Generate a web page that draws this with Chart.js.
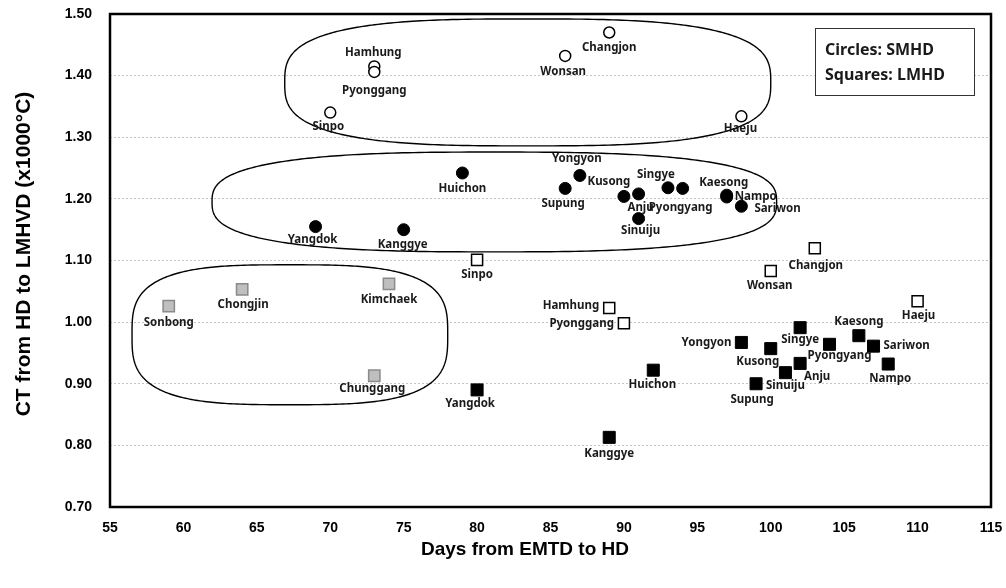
<!DOCTYPE html>
<html>
<head>
<meta charset="utf-8">
<script src="https://cdn.jsdelivr.net/npm/chart.js@4.4.1/dist/chart.umd.min.js"></script>
<style>
  html, body { margin: 0; padding: 0; background: #fff; }
</style>
</head>
<body>
<canvas id="chart" width="1006" height="588"></canvas>
<script>
// SMHD (circles), open markers
const smhdOpenNames = ['Changjon', 'Wonsan', 'Hamhung', 'Pyonggang', 'Sinpo', 'Haeju'];
const smhdOpenDays = [89, 86, 73, 73, 70, 98];
const smhdOpenCT = [1.470, 1.432, 1.415, 1.406, 1.340, 1.334];

// SMHD (circles), filled markers
const smhdFilledNames = ['Huichon', 'Yangdok', 'Kanggye', 'Yongyon', 'Supung', 'Kusong', 'Anju',
  'Singye', 'Pyongyang', 'Sinuiju', 'Kaesong', 'Nampo', 'Sariwon'];
const smhdFilledDays = [79, 69, 75, 87, 86, 90, 91, 93, 94, 91, 97, 97, 98];
const smhdFilledCT = [1.242, 1.155, 1.150, 1.238, 1.217, 1.204, 1.208, 1.218, 1.217, 1.168, 1.206, 1.203, 1.188];

// LMHD (squares), open markers
const lmhdOpenNames = ['Sinpo', 'Changjon', 'Wonsan', 'Hamhung', 'Pyonggang', 'Haeju'];
const lmhdOpenDays = [80, 103, 100, 89, 90, 110];
const lmhdOpenCT = [1.101, 1.120, 1.083, 1.023, 0.998, 1.034];

// LMHD (squares), filled markers
const lmhdFilledNames = ['Yangdok', 'Kanggye', 'Huichon', 'Yongyon', 'Kusong', 'Supung', 'Sinuiju',
  'Singye', 'Anju', 'Pyongyang', 'Kaesong', 'Sariwon', 'Nampo'];
const lmhdFilledDays = [80, 89, 92, 98, 100, 99, 101, 102, 102, 104, 106, 107, 108];
const lmhdFilledCT = [0.890, 0.813, 0.922, 0.967, 0.957, 0.900, 0.918, 0.991, 0.933, 0.964, 0.978, 0.961, 0.932];

// LMHD (squares), grey markers
const lmhdGreyNames = ['Sonbong', 'Chongjin', 'Kimchaek', 'Chunggang'];
const lmhdGreyDays = [59, 64, 74, 73];
const lmhdGreyCT = [1.026, 1.053, 1.062, 0.913];

const xTicks = [55, 60, 65, 70, 75, 80, 85, 90, 95, 100, 105, 110, 115];
const yTicks = [0.70, 0.80, 0.90, 1.00, 1.10, 1.20, 1.30, 1.40, 1.50];

// where each name label sits relative to its marker: [dx, dy, align]
const smhdOpenLabelAt = {
  Changjon: [0, 15], Wonsan: [-2, 16], Hamhung: [-1, -14], Pyonggang: [0, 19], Sinpo: [-2, 14], Haeju: [-1, 12]
};
const smhdFilledLabelAt = {
  Huichon: [0, 16], Yangdok: [-3, 13], Kanggye: [-1, 15], Yongyon: [-3, -17], Supung: [-2, 15],
  Kusong: [-15, -15], Anju: [2, 14], Singye: [-12, -13], Pyongyang: [-2, 19], Sinuiju: [2, 12],
  Kaesong: [-3, -12], Nampo: [8, 0, 'left'], Sariwon: [13, 2, 'left']
};
const lmhdOpenLabelAt = {
  Sinpo: [0, 15], Changjon: [1, 18], Wonsan: [-1, 15], Hamhung: [-10, -2, 'right'],
  Pyonggang: [-10, 0, 'right'], Haeju: [1, 15]
};
const lmhdFilledLabelAt = {
  Yangdok: [-7, 14], Kanggye: [0, 16], Huichon: [-1, 15], Yongyon: [-10, 0, 'right'], Kusong: [-13, 13],
  Supung: [-4, 16], Sinuiju: [0, 13], Singye: [0, 12], Anju: [17, 13], Pyongyang: [10, 11],
  Kaesong: [0, -14], Sariwon: [10, 0, 'left'], Nampo: [2, 15]
};
const lmhdGreyLabelAt = {
  Sonbong: [0, 17], Chongjin: [1, 15], Kimchaek: [0, 16], Chunggang: [-2, 13]
};

// hand-drawn group outlines, in axis units
const groupOutlines = [
  { x0: 66.9, x1: 100.0, y0: 1.286, y1: 1.492, n: 3.0 },
  { x0: 61.95, x1: 100.4, y0: 1.114, y1: 1.276, n: 2.8 },
  { x0: 56.5, x1: 78.0, y0: 0.866, y1: 1.093, n: 3.2 }
];

function toPoints(days, ct) {
  return days.map((d, i) => ({ x: d, y: ct[i] }));
}

// keep the plot box where the layout padding puts it
function noOverhang(scale) {
  scale.paddingTop = 0;
  scale.paddingBottom = 0;
  scale.paddingLeft = 0;
  scale.paddingRight = 0;
}

const textColor = '#1a1a1a';

const overlay = {
  id: 'overlay',
  beforeDatasetsDraw(chart) {
    const { ctx, scales: { x, y } } = chart;
    ctx.save();
    ctx.strokeStyle = '#000';
    ctx.lineWidth = 1.4;
    groupOutlines.forEach(g => {
      const left = x.getPixelForValue(g.x0), right = x.getPixelForValue(g.x1);
      const top = y.getPixelForValue(g.y1), bottom = y.getPixelForValue(g.y0);
      const cx = (left + right) / 2, cy = (top + bottom) / 2;
      const a = (right - left) / 2, b = (bottom - top) / 2;
      ctx.beginPath();
      for (let k = 0; k <= 360; k++) {
        const t = k * Math.PI / 180;
        const c = Math.cos(t), s = Math.sin(t);
        const px = cx + a * Math.sign(c) * Math.pow(Math.abs(c), 2 / g.n);
        const py = cy + b * Math.sign(s) * Math.pow(Math.abs(s), 2 / g.n);
        if (k === 0) ctx.moveTo(px, py); else ctx.lineTo(px, py);
      }
      ctx.closePath();
      ctx.stroke();
    });
    ctx.restore();
  },
  afterDatasetsDraw(chart) {
    const { ctx } = chart;
    ctx.save();
    ctx.font = 'bold 11.5px "Noto Sans"';
    ctx.fillStyle = textColor;
    ctx.textBaseline = 'middle';
    chart.data.datasets.forEach((ds, i) => {
      const meta = chart.getDatasetMeta(i);
      meta.data.forEach((el, j) => {
        const name = ds.names[j];
        const at = ds.labelAt[name] || [0, 15];
        ctx.textAlign = at[2] || 'center';
        ctx.fillText(name, el.x + at[0], el.y + at[1]);
      });
    });
    ctx.restore();
  },
  afterDraw(chart) {
    const { ctx, chartArea: ca } = chart;
    ctx.save();
    // plot frame
    ctx.strokeStyle = '#000';
    ctx.lineWidth = 2.5;
    ctx.strokeRect(ca.left, ca.top, ca.right - ca.left, ca.bottom - ca.top);

    // legend note box
    ctx.lineWidth = 1;
    ctx.strokeStyle = '#333';
    ctx.fillStyle = '#fff';
    ctx.fillRect(815.5, 28.5, 159, 67);
    ctx.strokeRect(815.5, 28.5, 159, 67);
    ctx.fillStyle = textColor;
    ctx.font = 'bold 16px "Noto Sans"';
    ctx.textAlign = 'left';
    ctx.textBaseline = 'middle';
    ctx.fillText('Circles: SMHD', 825, 50);
    ctx.fillText('Squares: LMHD', 825, 75);

    // axis titles
    ctx.fillStyle = '#000';
    ctx.font = 'bold 19px "Liberation Sans"';
    ctx.textAlign = 'center';
    ctx.fillText('Days from EMTD to HD', 525, 550);
    ctx.translate(24, 254);
    ctx.rotate(-Math.PI / 2);
    ctx.font = 'bold 21px "Liberation Sans"';
    ctx.fillText('CT from HD to LMHVD (x1000\u00b0C)', 0, 0);
    ctx.restore();
  }
};

new Chart(document.getElementById('chart'), {
  type: 'scatter',
  data: {
    datasets: [
      {
        label: 'SMHD open',
        names: smhdOpenNames, labelAt: smhdOpenLabelAt,
        data: toPoints(smhdOpenDays, smhdOpenCT),
        pointStyle: 'circle', pointRadius: 5.5,
        backgroundColor: '#fff', borderColor: '#000', borderWidth: 1.5
      },
      {
        label: 'SMHD filled',
        names: smhdFilledNames, labelAt: smhdFilledLabelAt,
        data: toPoints(smhdFilledDays, smhdFilledCT),
        pointStyle: 'circle', pointRadius: 6,
        backgroundColor: '#000', borderColor: '#000', borderWidth: 1
      },
      {
        label: 'LMHD open',
        names: lmhdOpenNames, labelAt: lmhdOpenLabelAt,
        data: toPoints(lmhdOpenDays, lmhdOpenCT),
        pointStyle: 'rect', pointRadius: 7.8,
        backgroundColor: '#fff', borderColor: '#000', borderWidth: 1.5
      },
      {
        label: 'LMHD filled',
        names: lmhdFilledNames, labelAt: lmhdFilledLabelAt,
        data: toPoints(lmhdFilledDays, lmhdFilledCT),
        pointStyle: 'rect', pointRadius: 8.5,
        backgroundColor: '#000', borderColor: '#000', borderWidth: 1
      },
      {
        label: 'LMHD grey',
        names: lmhdGreyNames, labelAt: lmhdGreyLabelAt,
        data: toPoints(lmhdGreyDays, lmhdGreyCT),
        pointStyle: 'rect', pointRadius: 8,
        backgroundColor: '#bfbfbf', borderColor: '#8a8a8a', borderWidth: 1.5
      }
    ]
  },
  options: {
    responsive: false,
    animation: false,
    events: [],
    layout: { padding: { top: 14, right: 15, left: 0, bottom: 0 } },
    plugins: {
      legend: { display: false },
      tooltip: { enabled: false }
    },
    scales: {
      x: {
        type: 'linear',
        min: xTicks[0], max: xTicks[xTicks.length - 1],
        afterBuildTicks: scale => { scale.ticks = xTicks.map(v => ({ value: v })); },
        afterFit: scale => { scale.height = 81; noOverhang(scale); },
        grid: { display: false },
        border: { display: false },
        ticks: {
          padding: 5,
          color: '#000',
          font: { family: '"Liberation Sans"', size: 14, weight: 'bold' },
          maxRotation: 0
        }
      },
      y: {
        type: 'linear',
        min: yTicks[0], max: yTicks[yTicks.length - 1],
        afterBuildTicks: scale => { scale.ticks = yTicks.map(v => ({ value: v })); },
        afterFit: scale => { scale.width = 110; noOverhang(scale); },
        grid: { color: '#c4c4c4', lineWidth: 1, drawTicks: false },
        border: { display: false, dash: [2, 2] },
        ticks: {
          padding: 18,
          color: '#000',
          font: { family: '"Liberation Sans"', size: 14, weight: 'bold' },
          callback: v => v.toFixed(2)
        }
      }
    }
  },
  plugins: [overlay]
});
</script>
</body>
</html>
